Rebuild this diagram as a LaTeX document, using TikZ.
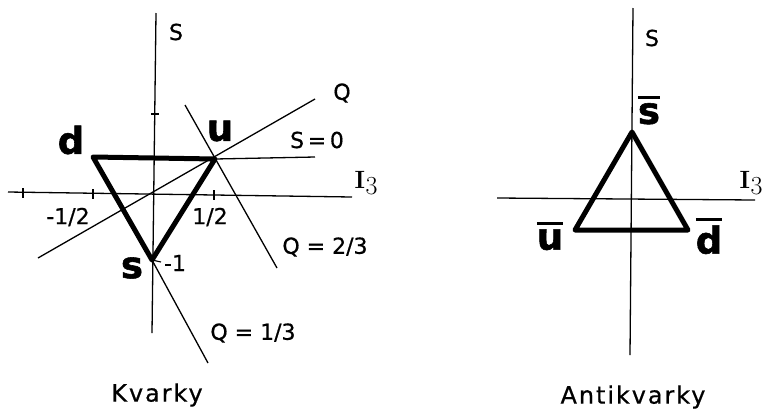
\documentclass[tikz,border=0pt]{standalone}
\usepackage{fontspec}
\newfontfamily\lab{DejaVu Sans}[FakeBold=0.6]
\newfontfamily\heavy{DejaVu Sans Bold}[FakeBold=1.5]
\newcommand{\qbar}[1]{\vbox{\hrule height 3.5pt\kern 4pt\hbox{#1}}}
\newcommand{\Ith}{\textbf{I}\kern0.5pt\raisebox{-6pt}{\fontsize{26}{26}\selectfont 3}}
\begin{document}
\begin{tikzpicture}[x=1pt,y=-1pt,
  axis/.style={line width=1.3pt},
  tickmark/.style={line width=1.1pt},
  tri/.style={line width=5pt,line join=round},
  lbl/.style={font=\lab\fontsize{22}{24}\selectfont,inner sep=0pt},
  ilab/.style={font=\fontsize{25}{28}\selectfont,inner sep=0pt},
  captxt/.style={font=\lab\addfontfeature{LetterSpace=8}\fontsize{24}{26}\selectfont,inner sep=0pt},
  qk/.style={font=\heavy\fontsize{37}{40}\selectfont,inner sep=0pt}]
\useasboundingbox (0,0) rectangle (763,408);
% ---------- left: quarks ----------
\coordinate (LSt) at (156,13);
\coordinate (LSb) at (152,333);
\coordinate (LIl) at (8,192);
\coordinate (LIr) at (352,197);
\draw[axis] (LSt) -- (LSb);
\draw[axis] (LIl) -- (LIr);
\draw[tickmark] (23,188) -- (23,198);
\draw[tickmark] (93,189) -- (93,199);
\draw[tickmark] (214,190) -- (214,200);
\draw[tickmark] (151,114) -- (159,114);
\coordinate (d) at (93,157);
\coordinate (u) at (215,159);
\coordinate (s) at (152,260);
\coordinate (Qa) at (38,258);
\coordinate (Qb) at (315,99);
\coordinate (S0) at (315,157);
\coordinate (Q2a) at (185,105);
\coordinate (Q2b) at (277,268);
\coordinate (Q1b) at (208,363);
\coordinate (st) at (161,262);
\draw[axis] (Qa) -- (Qb);
\draw[axis] (u) -- (S0);
\draw[axis] (Q2a) -- (Q2b);
\draw[axis] (s) -- (Q1b);
\draw[tickmark] (s) -- (st);
\draw[tri] (d) -- (u) -- (s) -- cycle;
\node[lbl] (lS) at (176,32) {S};
\node[lbl] (lQ) at (342,93) {Q};
\node[lbl] (lS0) at (317,140) {S\,=\,0};
\node[ilab] (lI) at (366,183) {\Ith};
\node[lbl] (lm12) at (68,217) {-1/2};
\node[lbl] (lp12) at (210,217) {1/2};
\node[lbl] (lm1) at (175,263) {-1};
\node[lbl] (lQ23) at (325,247) {Q = 2/3};
\node[lbl] (lQ13) at (253,333) {Q = 1/3};
\node[captxt] (kv) at (157,395) {Kvarky};
\node[qk] (nd) at (71,140) {d};
\node[qk] (nu) at (220,131) {u};
\node[qk] (ns) at (132,268) {s};
% ---------- right: antiquarks ----------
\coordinate (RSt) at (633,8);
\coordinate (RSb) at (630,355);
\coordinate (RIl) at (497,198);
\coordinate (RIr) at (755,200);
\draw[axis] (RSt) -- (RSb);
\draw[axis] (RIl) -- (RIr);
\coordinate (sb) at (632,132);
\coordinate (ub) at (575,230);
\coordinate (db) at (688,230);
\draw[tri] (sb) -- (db) -- (ub) -- cycle;
\node[lbl] (rS) at (652,38) {S};
\node[ilab] (rI) at (751,183) {\Ith};
\node[qk] (nsb) at (649,110) {\qbar{s}};
\node[qk] (nub) at (550,236) {\qbar{u}};
\node[qk] (ndb) at (709,236) {\qbar{d}};
\node[captxt] (akv) at (633,397) {Antikvarky};
\end{tikzpicture}
\end{document}
